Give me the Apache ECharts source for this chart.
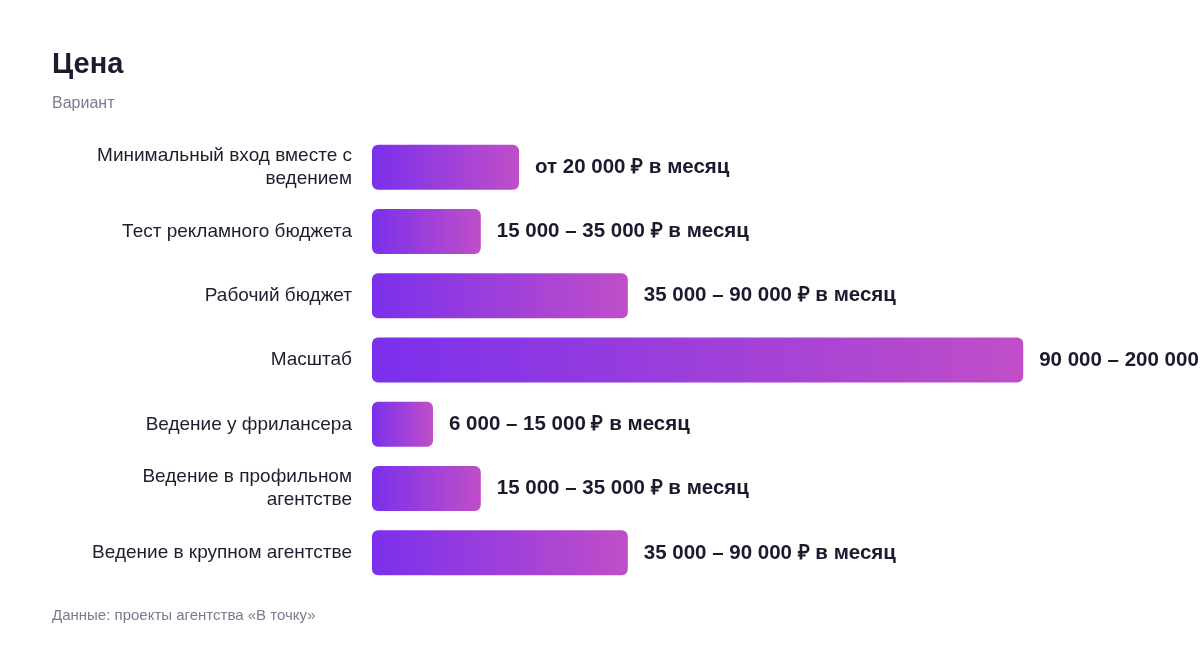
<!DOCTYPE html>
<html>
<head>
<meta charset="utf-8">
<script src="https://cdn.jsdelivr.net/npm/echarts@6/dist/echarts.min.js"></script>
<style>
  html, body { margin: 0; padding: 0; background: #fff; }
  #chart { width: 1200px; height: 648px; }
</style>
</head>
<body>
<div id="chart"></div>
<script>
// варианты (сверху вниз)
var categories = [
    'Минимальный вход вместе с\nведением',
    'Тест рекламного бюджета',
    'Рабочий бюджет',
    'Масштаб',
    'Ведение у фрилансера',
    'Ведение в профильном\nагентстве',
    'Ведение в крупном агентстве'
];
// длина столбца, тыс. ₽ (оценка по картинке)
var values = [20, 14.8, 34.8, 88.6, 8.3, 14.8, 34.8];
var priceLabels = [
    'от 20 000 ₽ в месяц',
    '15 000 – 35 000 ₽ в месяц',
    '35 000 – 90 000 ₽ в месяц',
    '90 000 – 200 000 ₽ в месяц',
    '6 000 – 15 000 ₽ в месяц',
    '15 000 – 35 000 ₽ в месяц',
    '35 000 – 90 000 ₽ в месяц'
];

var chartDom = document.getElementById('chart');
var myChart = echarts.init(chartDom);
var font = 'Liberation Sans';

var option = {
    backgroundColor: '#ffffff',
    animation: false,
    textStyle: { fontFamily: font },
    title: [
        {
            text: 'Цена',
            left: 47,
            top: 45,
            textStyle: { fontSize: 29, fontWeight: 'bold', color: '#1b1a2e', fontFamily: font }
        },
        {
            text: 'Вариант',
            left: 47,
            top: 91,
            textStyle: { fontSize: 16, fontWeight: 'normal', color: '#7b7a8e', fontFamily: font }
        },
        {
            text: 'Данные: проекты агентства «В точку»',
            left: 47,
            top: 603,
            textStyle: { fontSize: 15, fontWeight: 'normal', color: '#7b7a8e', fontFamily: font }
        }
    ],
    grid: {
        left: 372,
        right: 93,
        top: 135,
        bottom: 63,
        containLabel: false
    },
    xAxis: {
        type: 'value',
        min: 0,
        max: 100,
        show: false
    },
    yAxis: {
        type: 'category',
        inverse: true,
        data: categories,
        axisLine: { show: false },
        axisTick: { show: false },
        axisLabel: {
            margin: 20,
            fontSize: 19,
            lineHeight: 23,
            color: '#1e1e2e',
            fontFamily: font
        }
    },
    series: [
        {
            type: 'bar',
            data: values,
            barWidth: 45,
            itemStyle: {
                borderRadius: 6,
                color: new echarts.graphic.LinearGradient(0, 0, 1, 0, [
                    { offset: 0, color: '#7b30ec' },
                    { offset: 1, color: '#c04ec8' }
                ])
            },
            label: {
                show: true,
                position: 'right',
                distance: 16,
                fontSize: 20.5,
                fontWeight: 'bold',
                color: '#1b1a2e',
                fontFamily: font,
                formatter: function (p) { return priceLabels[p.dataIndex]; }
            }
        }
    ]
};
option && myChart.setOption(option);
</script>
</body>
</html>
